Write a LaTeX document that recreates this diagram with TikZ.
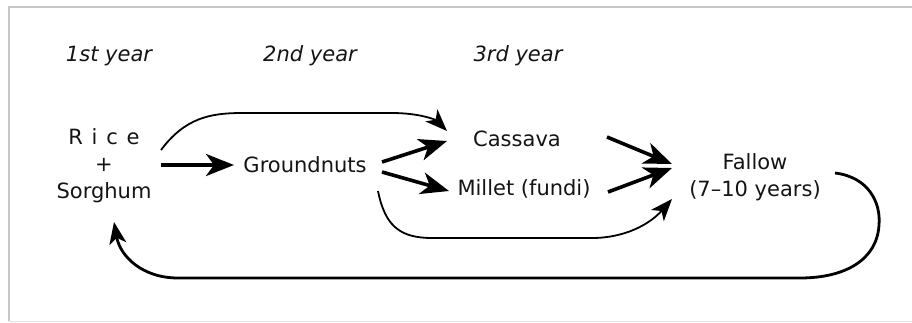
\documentclass[tikz,border=0pt]{standalone}
\usepackage{fontspec}
\setmainfont{DejaVu Sans}
\usetikzlibrary{arrows.meta,calc}
\tikzset{
  lbl/.style={inner sep=0pt,font=\fontsize{21}{27}\selectfont,text=black!92},
  yearlbl/.style={lbl,font=\fontsize{21}{27}\selectfont\itshape},
  bigarrow/.style={line width=3.6pt,-{Stealth[length=28pt,width=22pt,inset=8pt]}},
  thinarrow/.style={line width=1.8pt,-{Stealth[length=22pt,width=17pt,inset=6pt]}},
  backarrow/.style={line width=2.8pt,-{Stealth[length=22pt,width=17pt,inset=6pt]}},
  frameline/.style={draw=black!22,line width=1.4pt}
}
\newcommand{\lsp}{\hspace{0.42em}}
\begin{document}
\begin{tikzpicture}[x=1pt,y=-1pt]
\useasboundingbox (0,0) rectangle (912,322);
\draw[frameline] (9,321) -- (9,7) -- (912,7);
\draw[draw=black!10,line width=1pt] (9,321) -- (912,321);

\node[yearlbl] (y1) at (109,56) {1st year};
\node[yearlbl] (y2) at (310,56) {2nd year};
\node[yearlbl] (y3) at (518,56) {3rd year};

\node[lbl,align=center] (rs) at (104,166) {R\lsp i\lsp c\lsp e\\+\\Sorghum};
\node[lbl] (gn) at (305,165) {Groundnuts};
\node[lbl] (cas) at (517,139) {Cassava};
\node[lbl] (mil) at (524,189) {Millet (fundi)};
\node[lbl,align=center] (fal) at (755,177) {Fallow\\(7--10 years)};

% Rice+Sorghum -> Groundnuts
\draw[bigarrow] ($(rs)+(57,-1)$) -- ($(gn)+(-71,0)$);
% Rice+Sorghum -> Cassava (curved)
\draw[thinarrow] ($(rs)+(57,-16)$) .. controls (185,118) and (210,113) .. (242,113)
  -- (392,113) .. controls (420,113) and (436,120) .. ($(cas)+(-70,-8)$);
% Groundnuts -> Cassava / Millet
\draw[bigarrow] ($(gn)+(77,-3)$) -- ($(cas)+(-70,2)$);
\draw[bigarrow] ($(gn)+(77,7)$) -- ($(mil)+(-75,2)$);
% Groundnuts -> Fallow (curved)
\draw[thinarrow] ($(gn)+(73,26)$) .. controls (385,226) and (400,238) .. (432,238)
  -- (592,238) .. controls (625,238) and (650,224) .. ($(fal)+(-83,22)$);
% Cassava / Millet -> Fallow
\draw[bigarrow] ($(cas)+(90,-2)$) -- ($(fal)+(-83,-13)$);
\draw[bigarrow] ($(mil)+(84,3)$) -- ($(fal)+(-83,-9)$);
% Fallow -> Rice+Sorghum (return)
\draw[backarrow] ($(fal)+(80,-4)$) .. controls (868,177) and (881,202) .. (879,225)
  .. controls (877,260) and (845,278) .. (800,278) -- (178,278)
  .. controls (142,278) and (120,256) .. ($(rs)+(10,56)$);
\end{tikzpicture}
\end{document}
